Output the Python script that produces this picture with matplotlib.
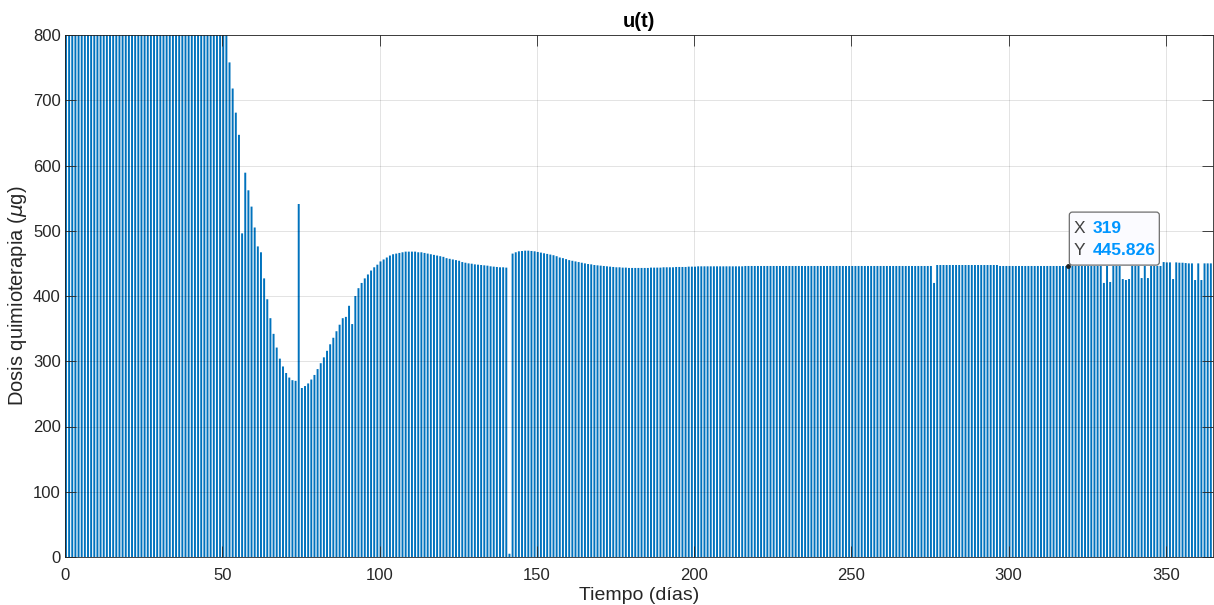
import matplotlib
matplotlib.use("Agg")
import matplotlib.pyplot as plt
import matplotlib.transforms as mtransforms
from matplotlib.patches import FancyBboxPatch

plt.rcParams['font.family'] = ['Liberation Sans', 'DejaVu Sans']

# dosis diaria de quimioterapia (ug), dias 0..364
dosis = [
    800, 800, 800, 800, 800, 800, 800, 800, 800, 800,
    800, 800, 800, 800, 800, 800, 800, 800, 800, 800,
    800, 800, 800, 800, 800, 800, 800, 800, 800, 800,
    800, 800, 800, 800, 800, 800, 800, 800, 800, 800,
    800, 800, 800, 800, 800, 800, 800, 800, 800, 800,
    800, 800, 758, 718, 681, 647, 496, 589, 562, 537,
    505, 476, 467, 427, 395, 366, 342, 321, 304, 292,
    282, 275, 271, 270, 541, 259, 262, 266, 272, 279,
    288, 297, 306, 316, 326, 336, 346, 356, 366, 368,
    385, 357, 400, 412, 420, 427, 433, 439, 444, 448,
    453, 456, 459, 462, 464, 465, 466, 467, 468, 468,
    468, 468, 467, 467, 466, 465, 464, 463, 462, 461,
    460, 458, 457, 456, 455, 454, 452, 451, 450, 449.5,
    448.5, 448, 447.5, 447, 446.5, 445.5, 445, 444.5, 444, 444,
    443.5, 5, 465, 467, 468.5, 469, 469.5, 469.5, 469, 468.5,
    467.5, 466.5, 465.5, 464.5, 463.5, 462.5, 461, 459, 458, 456.5,
    455, 454, 453, 452, 451, 450, 449, 448.5, 447.5, 447,
    446.5, 446, 445.5, 445, 444.5, 444, 444, 443.5, 443.5, 443,
    443, 443, 443, 443, 443, 443, 443.5, 443.5, 443.5, 443.5,
    444, 444, 444, 444, 444.5, 444.5, 444.5, 444.5, 445, 445,
    445, 445.5, 445.5, 445.5, 445.5, 445.5, 445.5, 445.5, 445.5, 445.5,
    445.5, 445.5, 445.5, 445.5, 445.5, 445.5, 446, 446, 446, 446,
    446, 446, 446, 446, 446, 446, 446, 446, 446, 446,
    446, 446, 446, 446, 446, 446, 446, 446, 446, 446,
    446, 446, 446, 446, 446, 446, 446, 446, 446, 446,
    446, 446, 446, 446, 446, 446, 446, 446, 446, 446,
    446, 446, 446, 446, 446, 446, 446, 446, 446, 446,
    446, 446, 446, 446, 446, 446, 420, 447.5, 447.5, 447.5,
    447.5, 447.5, 447.5, 447.5, 447.5, 447.5, 447.5, 447.5, 447.5, 447.5,
    447.5, 447.5, 447.5, 447.5, 447.5, 447.5, 447.5, 446, 446, 446,
    446, 446, 446, 446, 446, 446, 446, 446, 446, 446,
    446, 446, 446, 446, 446, 446, 446, 446, 446, 445.826,
    446, 446, 446, 446, 446, 446, 446, 446, 446, 446,
    420, 446, 421.5, 446, 446, 446, 426, 424.5, 426, 446,
    446, 446, 427.5, 446, 427.5, 446, 446, 446, 446, 452,
    451.5, 451.5, 426, 451.5, 451, 451, 450.5, 450, 450, 424.5,
    450, 424.5, 450, 450, 450,
]
dias = list(range(len(dosis)))

tip_x = 319
tip_y = dosis[tip_x]

xticks = [0, 50, 100, 150, 200, 250, 300, 350]
yticks = [0, 100, 200, 300, 400, 500, 600, 700, 800]

fig = plt.figure(figsize=(12.14, 6.05), dpi=100)
ax = fig.add_axes([65 / 1214, 48 / 605, 1148 / 1214, 522 / 605])

barras = ax.bar(dias, dosis, width=0.62, align='edge', color='#0072BD', linewidth=0)
for b in barras:
    b.set_snap(False)

ax.set_xlim(0, 365)
ax.set_ylim(0, 800)
ax.set_xticks(xticks)
ax.set_yticks(yticks)

# estilo tipo MATLAB: rejilla encima, ticks hacia dentro en los cuatro lados
ax.set_axisbelow(False)
ax.grid(True, color='black', alpha=0.13, linewidth=0.6)
ax.tick_params(direction='in', top=True, right=True, length=8, width=0.6,
               color='#262626', labelcolor='#262626', labelsize=12)
ax.tick_params(axis='x', pad=8)
ax.tick_params(axis='y', pad=3)
for s in ax.spines.values():
    s.set_color('#262626')
    s.set_linewidth(0.6)

ax.set_title('u(t)', fontsize=14.5, fontweight='bold', color='black', pad=6)
ax.set_xlabel('Tiempo (días)', fontsize=14, color='#262626', labelpad=3)
ax.set_ylabel(r'Dosis quimioterapia ($\mu$g)', fontsize=14.5, color='#262626', labelpad=3)

# datatip en el dia 319
ax.plot([tip_x], [tip_y], 'o', color='#222222', markersize=2.5, zorder=5)
tip_tr = mtransforms.IdentityTransform() + mtransforms.ScaledTranslation(tip_x, tip_y, ax.transData)
caja = FancyBboxPatch((1, 1), 90, 53, boxstyle='round,pad=0,rounding_size=3',
                      transform=tip_tr, facecolor='#fbfbff', edgecolor='#6e6e6e',
                      linewidth=0.9, zorder=6, clip_on=False)
ax.add_patch(caja)
for etiqueta, valor, dy in [('X', f'{tip_x}', 38), ('Y', f'{tip_y:.3f}', 15.5)]:
    ax.annotate(etiqueta, xy=(tip_x, tip_y), xytext=(5, dy), textcoords='offset pixels',
                ha='left', va='center', fontsize=12.5, color='#404040', zorder=7)
    ax.annotate(valor, xy=(tip_x, tip_y), xytext=(24, dy), textcoords='offset pixels',
                ha='left', va='center', fontsize=12.5, color='#0096FF',
                fontweight='bold', zorder=7)

fig.savefig('out.png', dpi=100)
